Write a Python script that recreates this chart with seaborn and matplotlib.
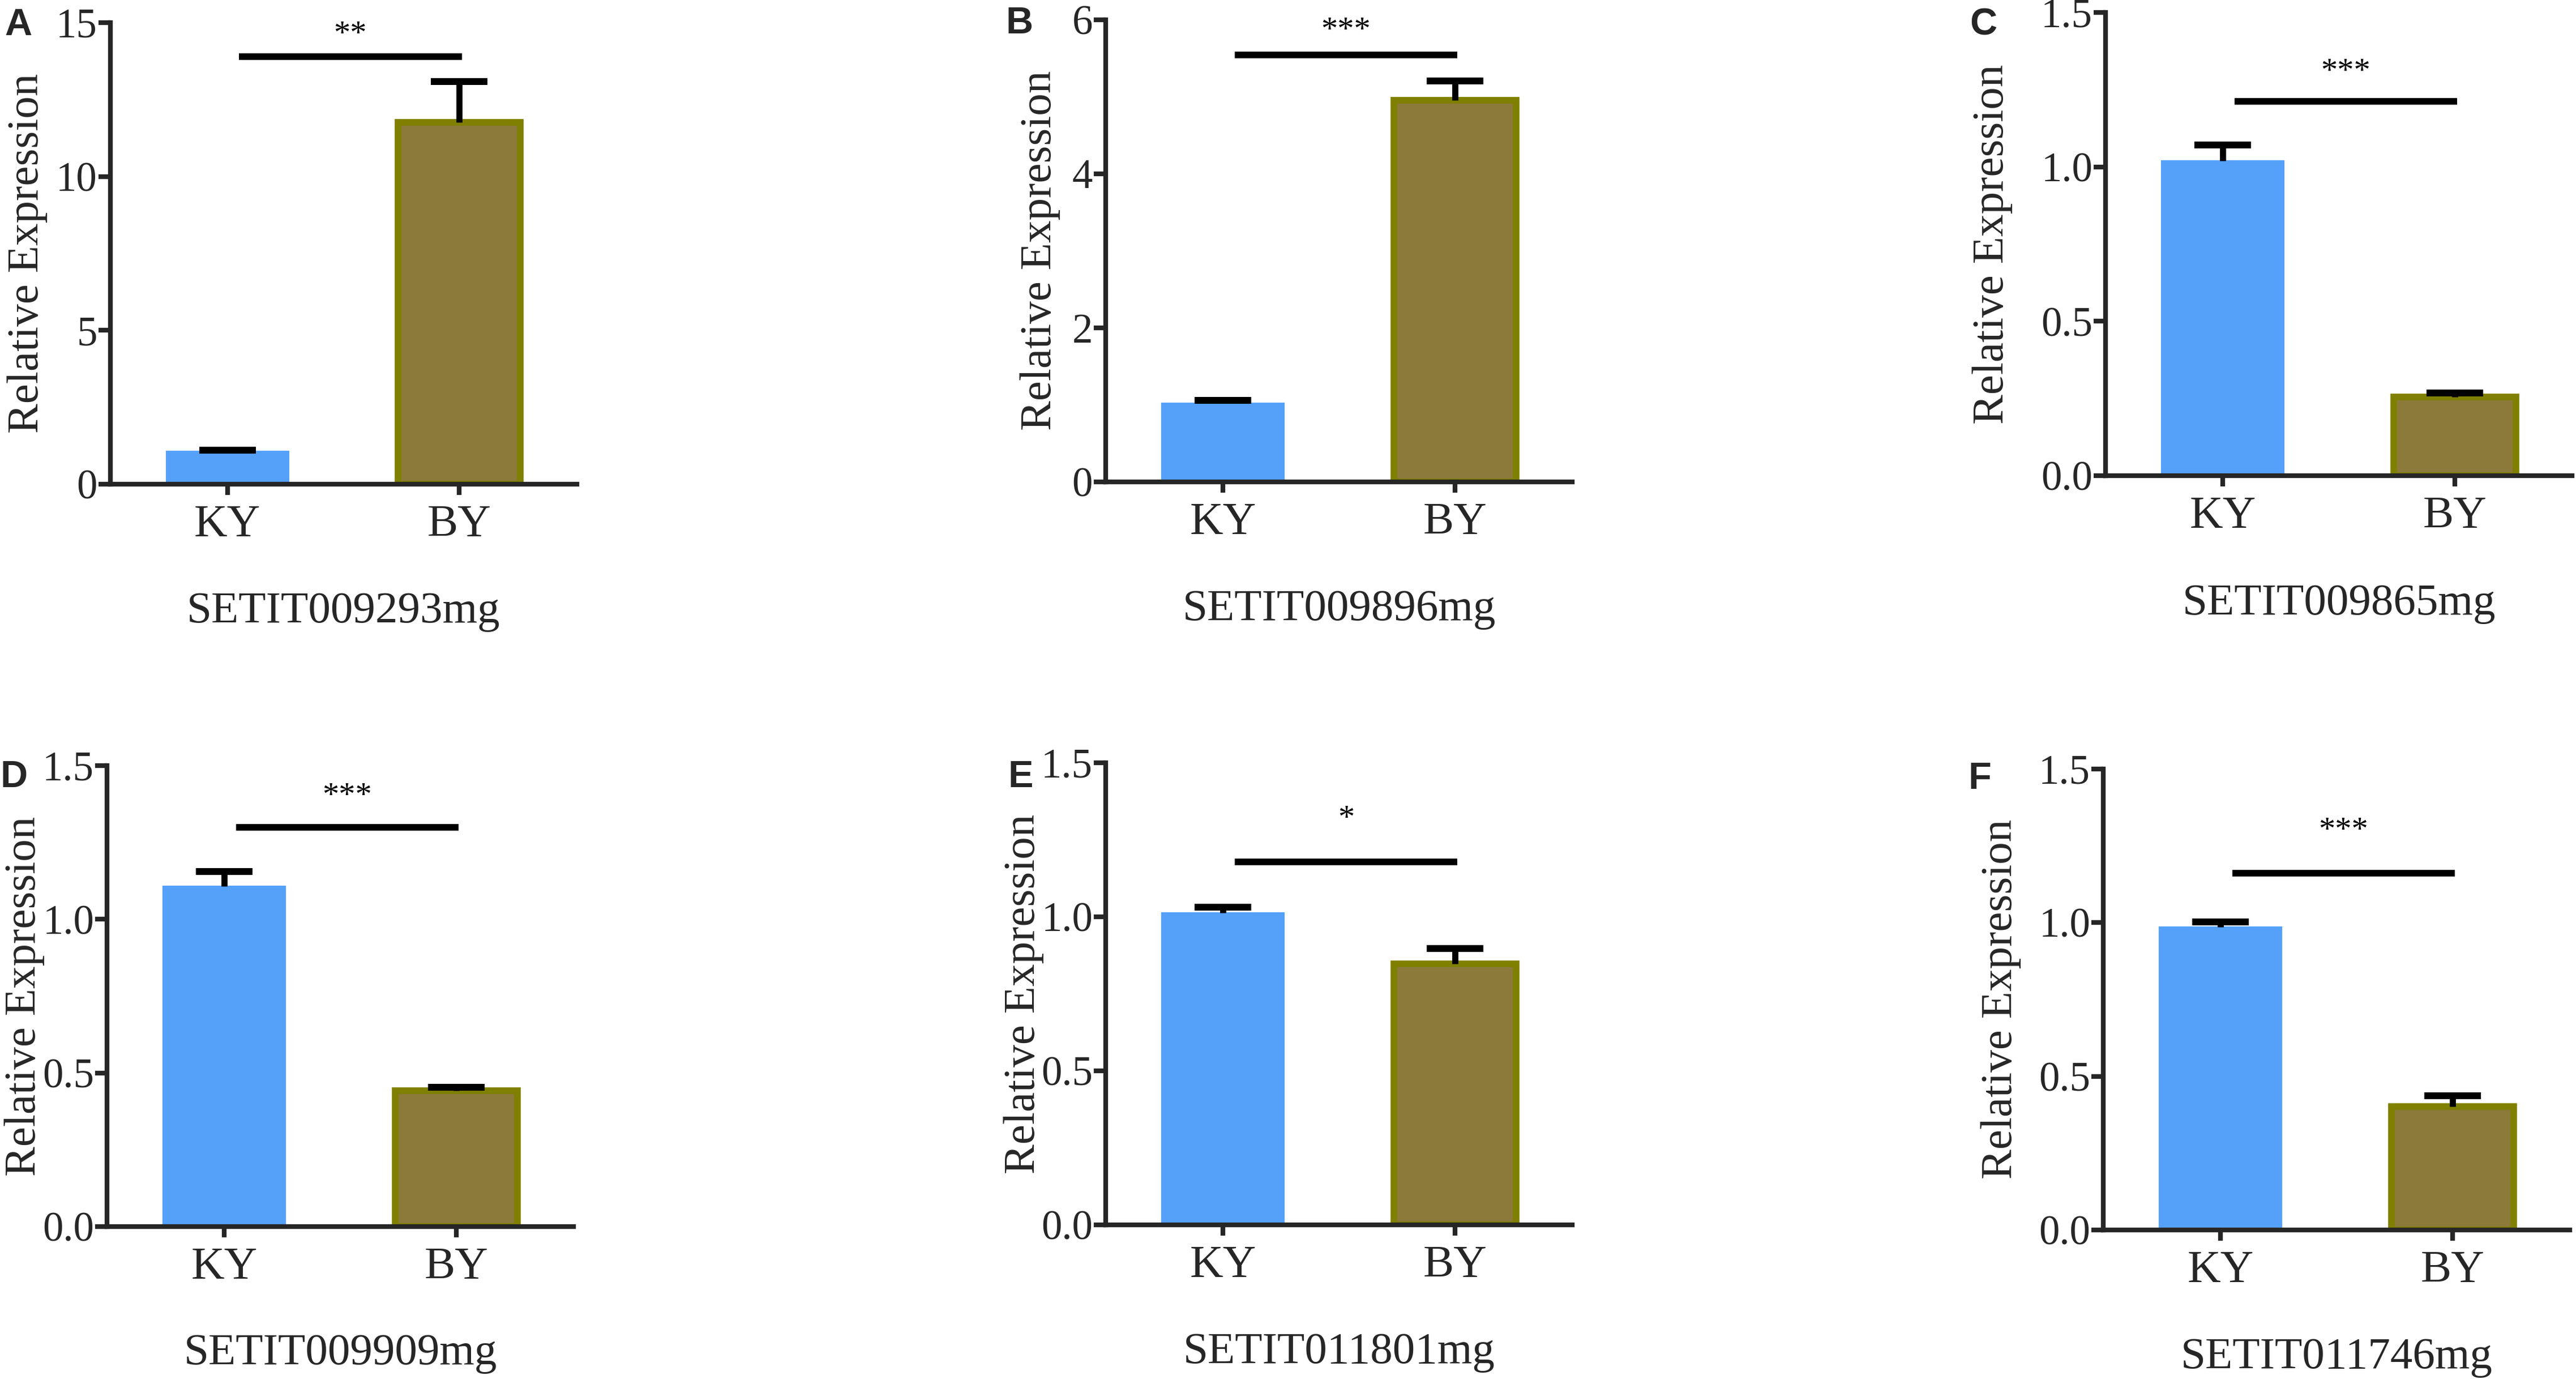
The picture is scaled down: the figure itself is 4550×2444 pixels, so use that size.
import numpy as np
import pandas as pd
import seaborn as sns
import matplotlib.pyplot as plt
from matplotlib.ticker import FormatStrFormatter

# values
letters = ['A', 'B', 'C', 'D', 'E', 'F']
genes = ['SETIT009293mg', 'SETIT009896mg', 'SETIT009865mg',
         'SETIT009909mg', 'SETIT011801mg', 'SETIT011746mg']
groups = ['KY', 'BY']
ky_mean = [1.06, 1.02, 1.02, 1.107, 1.012, 0.985]
ky_err = [0.05, 0.04, 0.05, 0.048, 0.02, 0.016]
by_mean = [11.76, 4.95, 0.254, 0.442, 0.847, 0.402]
by_err = [1.32, 0.25, 0.013, 0.011, 0.05, 0.034]
stars = ['**', '***', '***', '***', '*', '***']
sig_y = [13.9, 5.54, 1.213, 1.30, 1.178, 1.16]
star_y = [14.93, 5.98, 1.338, 1.432, 1.349, 1.33]
y_max = [15, 6, 1.5, 1.5, 1.5, 1.5]
y_step = [5, 2, 0.5, 0.5, 0.5, 0.5]
y_fmt = ['%d', '%d', '%.1f', '%.1f', '%.1f', '%.1f']

blue = '#55a1fa'
brown = '#8b7a3a'
olive = '#808000'

sns.set_style('ticks')
plt.rcParams['font.family'] = ['Liberation Serif', 'DejaVu Serif']

W, H = 4550, 2444
fig = plt.figure(figsize=(W / 300, H / 300), dpi=300)

# axes boxes in pixels: left, bottom(y from top), top(y from top)
boxes = [(194.5, 855, 40), (1953, 851, 34.5), (3719, 840, 22),
         (189, 2166, 1352), (1953, 2163, 1347), (3715, 2172, 1357.5)]
ax_w = 824
ylabel_x = [48.6, 1837, 3519.6, 43.6, 1808.6, 3534.6]
letter_pos = [(32, 62), (1801, 59), (3503, 62), (25, 1390), (1803, 1390), (3497, 1393)]

for i in range(6):
	left, bot, top = boxes[i]
	ax = fig.add_axes([left / W, 1 - bot / H, ax_w / W, (bot - top) / H])
	df = pd.DataFrame({'group': groups, 'value': [ky_mean[i], by_mean[i]]})
	sns.barplot(data=df, x='group', y='value', hue='group', order=groups,
				hue_order=groups, palette=[blue, brown], width=0.527,
				errorbar=None, legend=False, saturation=1, ax=ax)
	for patch, ec, lw in zip(ax.patches, [blue, olive], [0.5, 2.8]):
		patch.set_edgecolor(ec)
		patch.set_linewidth(lw)
		patch.set_zorder(2)
	eb = ax.errorbar([0, 1], [ky_mean[i], by_mean[i]],
					 yerr=[[0, 0], [ky_err[i], by_err[i]]], fmt='none',
					 ecolor='black', elinewidth=2.6, capsize=12, capthick=2.9, zorder=3)
	# only the upper cap, like the original
	eb[1][0].set_visible(False)
	ax.plot([0.05, 1.01], [sig_y[i], sig_y[i]], color='black', lw=2.8,
			solid_capstyle='butt', zorder=3)
	ax.annotate(stars[i], xy=(0.53, star_y[i]), xytext=(0, -7.7),
				textcoords='offset points', ha='center', va='baseline',
				fontsize=14, color='black')

	ax.set_xlim(-0.505, 1.505)
	ax.set_ylim(0, y_max[i])
	ax.set_yticks(np.arange(0, y_max[i] + 1e-9, y_step[i]))
	ax.yaxis.set_major_formatter(FormatStrFormatter(y_fmt[i]))
	sns.despine(ax=ax)
	for s in ['left', 'bottom']:
		ax.spines[s].set_linewidth(2)
	ax.tick_params(axis='x', direction='out', length=4.6, width=2, pad=4, labelsize=19.5)
	ax.tick_params(axis='y', direction='out', length=5, width=2, pad=0.5, labelsize=17.5)
	ax.set_xlabel('')
	ax.set_ylabel('Relative Expression', fontsize=19, va='center')
	ax.yaxis.set_label_coords((ylabel_x[i] - left) / ax_w, 0.5)
	ax.text(0.5, -0.276, genes[i], transform=ax.transAxes, ha='center',
			va='center', fontsize=19)

	lx, ly = letter_pos[i]
	fig.text(lx / W, 1 - ly / H, letters[i], ha='center', va='baseline',
			 fontsize=16, fontweight='bold', family=['Liberation Sans', 'DejaVu Sans'])

fig.savefig('out.png', dpi=300)
